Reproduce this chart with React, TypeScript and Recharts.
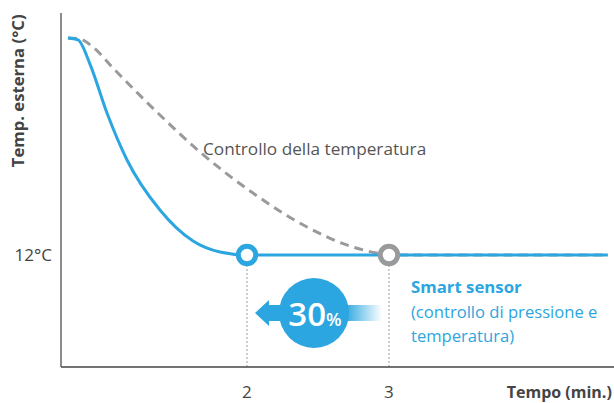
import React from "react";
import { LineChart, Line, XAxis, YAxis, ReferenceDot, ReferenceLine } from "recharts";

const BLUE = "#2ca6e0";
const GREY = "#999a9c";
const DARK = "#444444";
const FONT = "'Open Sans', 'Noto Sans', sans-serif";

const sensorTime = [0.739, 0.81, 0.894, 1.014, 1.155, 1.387, 1.62, 1.81, 2, 3, 4.542];
const sensorTemp = [35.25, 35.04, 32.46, 27.21, 22.18, 16.82, 13.5, 12.32, 12, 12, 12];
const tempTime = [0.739, 0.824, 0.915, 1.056, 1.387, 1.669, 2.042, 2.423, 2.725, 2.915, 3, 4.542];
const tempTemp = [35.25, 35.14, 34.29, 32.04, 27.0, 23.04, 18.64, 15.0, 12.96, 12.21, 12, 12];
const xTicks = [2, 3];
const yTicks = [12];
const xDomain = [0.69, 4.585];
const yDomain = [0, 37.93];

const toRows = (t: number[], v: number[]) => t.map((x, i) => ({ x, y: v[i] }));

const label = (text: string, opts: { anchor?: string; size: number; weight?: number; fill: string; rotate?: boolean }) => (p: any) => (
  <text
    x={p.cx}
    y={p.cy}
    textAnchor={(opts.anchor as any) || "start"}
    fontFamily={FONT}
    fontSize={opts.size}
    fontWeight={opts.weight || 400}
    fill={opts.fill}
    transform={opts.rotate ? `rotate(-90 ${p.cx} ${p.cy})` : undefined}
  >
    {text}
  </text>
);

const ring = (color: string) => (p: any) => (
  <circle cx={p.cx} cy={p.cy} r={8.7} fill="#fff" stroke={color} strokeWidth={5} />
);

const Bubble = (p: any) => {
  const { cx, cy } = p;
  return (
    <g>
      <defs>
        <linearGradient id="tail" x1="0" x2="1" y1="0" y2="0">
          <stop offset="0" stopColor={BLUE} />
          <stop offset="0.45" stopColor={BLUE} />
          <stop offset="1" stopColor={BLUE} stopOpacity={0} />
        </linearGradient>
      </defs>
      <rect x={cx} y={cy - 8} width={68} height={16} fill="url(#tail)" />
      <path d={`M${cx - 59} ${cy} L${cx - 45} ${cy - 13} L${cx - 45} ${cy - 8} L${cx - 30} ${cy - 8} L${cx - 30} ${cy + 8} L${cx - 45} ${cy + 8} L${cx - 45} ${cy + 13} Z`} fill={BLUE} />
      <circle cx={cx} cy={cy} r={35} fill={BLUE} />
      <text x={cx + 1} y={cy + 13} textAnchor="middle" fontFamily={FONT} fill="#fff" fontWeight={600}>
        <tspan fontSize={33}>30</tspan>
        <tspan fontSize={18}>%</tspan>
      </text>
    </g>
  );
};

export default function App() {
  return (
    <div style={{ position: "absolute", left: 0, top: 0 }}>
      <LineChart width={614} height={403} margin={{ top: 13, right: 0, bottom: 0, left: 0 }}>
        <XAxis
          type="number"
          dataKey="x"
          domain={xDomain}
          ticks={xTicks}
          allowDataOverflow
          height={36}
          tickLine={false}
          axisLine={{ stroke: "#444", strokeWidth: 1.5 }}
          tick={{ fontFamily: FONT, fontSize: 17, fill: DARK }}
          tickMargin={13}
        />
        <YAxis
          type="number"
          dataKey="y"
          domain={yDomain}
          ticks={yTicks}
          allowDataOverflow
          width={61}
          tickLine={false}
          axisLine={{ stroke: "#666", strokeWidth: 1.5 }}
          tick={{ fontFamily: FONT, fontSize: 17, fill: DARK }}
          tickFormatter={(v: number) => `${v}°C`}
          tickMargin={3}
        />
        <ReferenceLine segment={[{ x: 2, y: 0 }, { x: 2, y: 12 }]} stroke={GREY} strokeDasharray="2 2" />
        <ReferenceLine segment={[{ x: 3, y: 0 }, { x: 3, y: 12 }]} stroke={GREY} strokeDasharray="2 2" />
        <Line data={toRows(tempTime, tempTemp)} dataKey="y" type="monotone" stroke={GREY} strokeWidth={3} strokeDasharray="9 6" dot={false} isAnimationActive={false} />
        <Line data={toRows(sensorTime, sensorTemp)} dataKey="y" type="monotone" stroke={BLUE} strokeWidth={3} dot={false} isAnimationActive={false} />
        <ReferenceDot x={2} y={12} r={9} shape={ring(BLUE)} />
        <ReferenceDot x={3} y={12} r={9} shape={ring(GREY)} />
        <ReferenceDot x={2.472} y={5.79} r={1} shape={Bubble} />
        <ReferenceDot x={1.69} y={22.71} r={1} shape={label("Controllo della temperatura", { size: 17.2, fill: "#555" })} />
        <ReferenceDot x={3.155} y={7.93} r={1} shape={label("Smart sensor", { size: 16.8, weight: 700, fill: BLUE })} />
        <ReferenceDot x={3.155} y={5.25} r={1} shape={label("(controllo di pressione e", { size: 16.6, fill: BLUE })} />
        <ReferenceDot x={3.155} y={2.68} r={1} shape={label("temperatura)", { size: 16.6, fill: BLUE })} />
        <ReferenceDot x={4.57} y={-3.36} r={1} ifOverflow="visible" shape={label("Tempo (min.)", { size: 16, weight: 700, anchor: "end", fill: DARK })} />
        <ReferenceDot x={0.43} y={21.4} r={1} ifOverflow="visible" shape={label("Temp. esterna (°C)", { size: 16.7, weight: 700, fill: DARK, rotate: true })} />
      </LineChart>
    </div>
  );
}
